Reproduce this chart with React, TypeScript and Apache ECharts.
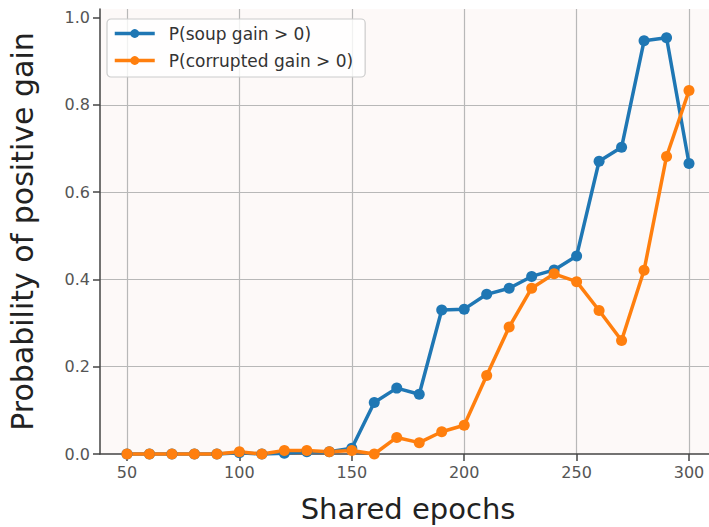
import React, { useEffect, useRef } from "react";
import * as echarts from "echarts";

const epochs = [50, 60, 70, 80, 90, 100, 110, 120, 130, 140, 150, 160, 170, 180, 190, 200, 210, 220, 230, 240, 250, 260, 270, 280, 290, 300];
const soupGain = [0, 0, 0, 0, 0, 0.003, 0, 0.002, 0.005, 0.005, 0.013, 0.118, 0.151, 0.137, 0.330, 0.332, 0.366, 0.380, 0.407, 0.422, 0.454, 0.671, 0.703, 0.947, 0.954, 0.666];
const corruptedGain = [0, 0, 0, 0, 0, 0.005, 0, 0.008, 0.008, 0.005, 0.008, 0, 0.038, 0.026, 0.051, 0.066, 0.180, 0.291, 0.380, 0.413, 0.395, 0.329, 0.260, 0.421, 0.682, 0.833];
const xTicks = [50, 100, 150, 200, 250, 300];
const yTicks = [0, 0.2, 0.4, 0.6, 0.8, 1.0];

const FONT = "DejaVu Sans";

export default function App() {
  const ref = useRef<HTMLDivElement>(null);
  useEffect(() => {
    document.body.style.margin = "0";
    const chart = echarts.init(ref.current!, null, { renderer: "svg" });
    const mkSeries = (name: string, data: number[], color: string) => ({
      name,
      type: "line",
      data: epochs.map((e, i) => [e, data[i]]),
      symbol: "circle",
      symbolSize: 11,
      clip: false,
      itemStyle: { color },
      lineStyle: { color, width: 3.5 },
      emphasis: { disabled: true },
    });
    chart.setOption({
      animation: false,
      backgroundColor: "#ffffff",
      textStyle: { fontFamily: FONT },
      grid: { left: 100, top: 9, bottom: 73, width: 616, containLabel: false, outerBoundsMode: "none", show: true, backgroundColor: "#fdf9f8", borderWidth: 0 },
      legend: {
        left: 107,
        top: 19,
        orient: "vertical",
        itemWidth: 40,
        itemHeight: 11,
        itemGap: 10,
        padding: [6, 12, 8, 6],
        backgroundColor: "rgba(255,255,255,0.8)",
        borderColor: "#cccccc",
        borderWidth: 1.2,
        borderRadius: 4,
        lineStyle: { width: 3.5 },
        textStyle: { fontFamily: FONT, fontSize: 17, color: "#333333", lineHeight: 17, padding: [0, 0, 0, 9] },
        data: ["P(soup gain > 0)", "P(corrupted gain > 0)"],
      },
      xAxis: {
        type: "value",
        min: 38,
        max: 312,
        name: "Shared epochs",
        nameLocation: "middle",
        nameGap: 40,
        nameTextStyle: { fontFamily: FONT, fontSize: 29, color: "#222222" },
        axisLine: { show: true, onZero: false, lineStyle: { color: "#444444", width: 1.5 } },
        axisTick: { show: true, length: 7, inside: false, customValues: xTicks, lineStyle: { color: "#444444", width: 1.5 } },
        axisLabel: { customValues: xTicks, fontFamily: FONT, fontSize: 16, color: "#555555", margin: 10 },
        splitLine: { show: true, lineStyle: { color: "#b8b8b8", width: 1.2 } },
      },
      yAxis: {
        type: "value",
        min: 0,
        max: 1.02,
        name: "Probability of positive gain",
        nameLocation: "middle",
        nameGap: 63,
        nameTextStyle: { fontFamily: FONT, fontSize: 30, color: "#222222" },
        axisLine: { show: true, lineStyle: { color: "#444444", width: 1.5 } },
        axisTick: { show: true, length: 7, inside: false, customValues: yTicks, lineStyle: { color: "#444444", width: 1.5 } },
        axisLabel: { customValues: yTicks, fontFamily: FONT, fontSize: 16, color: "#555555", margin: 10, formatter: (v: number) => v.toFixed(1) },
        splitLine: { show: true, showMinLine: false, showMaxLine: false, lineStyle: { color: "#b8b8b8", width: 1.2 } },
      },
      series: [
        mkSeries("P(soup gain > 0)", soupGain, "#1f77b4"),
        mkSeries("P(corrupted gain > 0)", corruptedGain, "#ff7f0e"),
      ],
    });
    return () => chart.dispose();
  }, []);
  return <div ref={ref} style={{ width: 709, height: 527 }} />;
}
